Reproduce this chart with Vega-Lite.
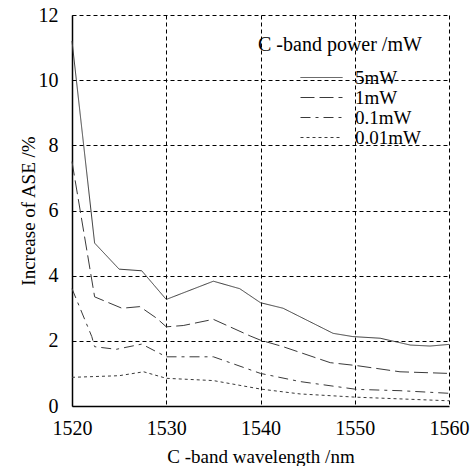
{
  "$schema": "https://vega.github.io/schema/vega-lite/v6.json",
  "autosize": {"type": "none"},
  "padding": {"left": 72, "top": 15, "right": 27, "bottom": 60},
  "width": 377,
  "height": 391,
  "background": "white",
  "config": {
    "view": {"stroke": null},
    "font": "'Liberation Serif', 'Times New Roman', serif"
  },
  "data": {
    "values": [
      {"wl": 1520, "v": 11.2, "p": "5mW"},
      {"wl": 1522.4, "v": 5.0, "p": "5mW"},
      {"wl": 1525, "v": 4.2, "p": "5mW"},
      {"wl": 1527.4, "v": 4.15, "p": "5mW"},
      {"wl": 1530, "v": 3.27, "p": "5mW"},
      {"wl": 1535, "v": 3.83, "p": "5mW"},
      {"wl": 1537.8, "v": 3.6, "p": "5mW"},
      {"wl": 1540, "v": 3.17, "p": "5mW"},
      {"wl": 1542.4, "v": 3.0, "p": "5mW"},
      {"wl": 1547.7, "v": 2.23, "p": "5mW"},
      {"wl": 1549.8, "v": 2.13, "p": "5mW"},
      {"wl": 1552.7, "v": 2.08, "p": "5mW"},
      {"wl": 1555.9, "v": 1.87, "p": "5mW"},
      {"wl": 1558, "v": 1.84, "p": "5mW"},
      {"wl": 1560, "v": 1.89, "p": "5mW"},
      {"wl": 1520, "v": 7.5, "p": "1mW"},
      {"wl": 1522.4, "v": 3.35, "p": "1mW"},
      {"wl": 1525.3, "v": 3.0, "p": "1mW"},
      {"wl": 1527.2, "v": 3.05, "p": "1mW"},
      {"wl": 1529, "v": 2.69, "p": "1mW"},
      {"wl": 1530, "v": 2.43, "p": "1mW"},
      {"wl": 1531.8, "v": 2.47, "p": "1mW"},
      {"wl": 1535, "v": 2.66, "p": "1mW"},
      {"wl": 1538.9, "v": 2.15, "p": "1mW"},
      {"wl": 1540, "v": 2.02, "p": "1mW"},
      {"wl": 1542.4, "v": 1.82, "p": "1mW"},
      {"wl": 1547.4, "v": 1.33, "p": "1mW"},
      {"wl": 1550.2, "v": 1.24, "p": "1mW"},
      {"wl": 1554.8, "v": 1.05, "p": "1mW"},
      {"wl": 1560, "v": 1.0, "p": "1mW"},
      {"wl": 1520, "v": 3.6, "p": "0.1mW"},
      {"wl": 1522.1, "v": 2.13, "p": "0.1mW"},
      {"wl": 1522.4, "v": 1.82, "p": "0.1mW"},
      {"wl": 1524.7, "v": 1.74, "p": "0.1mW"},
      {"wl": 1527.4, "v": 1.9, "p": "0.1mW"},
      {"wl": 1530, "v": 1.51, "p": "0.1mW"},
      {"wl": 1535, "v": 1.51, "p": "0.1mW"},
      {"wl": 1540, "v": 1.0, "p": "0.1mW"},
      {"wl": 1544.2, "v": 0.75, "p": "0.1mW"},
      {"wl": 1550.2, "v": 0.51, "p": "0.1mW"},
      {"wl": 1554.8, "v": 0.47, "p": "0.1mW"},
      {"wl": 1560, "v": 0.39, "p": "0.1mW"},
      {"wl": 1520, "v": 0.88, "p": "0.01mW"},
      {"wl": 1525, "v": 0.93, "p": "0.01mW"},
      {"wl": 1527.6, "v": 1.05, "p": "0.01mW"},
      {"wl": 1530, "v": 0.85, "p": "0.01mW"},
      {"wl": 1535, "v": 0.78, "p": "0.01mW"},
      {"wl": 1540, "v": 0.52, "p": "0.01mW"},
      {"wl": 1544.2, "v": 0.37, "p": "0.01mW"},
      {"wl": 1550.2, "v": 0.27, "p": "0.01mW"},
      {"wl": 1560, "v": 0.16, "p": "0.01mW"}
    ]
  },
  "mark": {"type": "line", "stroke": "#3a3a3a", "strokeWidth": 1},
  "encoding": {
    "x": {
      "field": "wl", "type": "quantitative",
      "scale": {"domain": [1520, 1560], "nice": false, "zero": false},
      "axis": {
        "values": [1520, 1530, 1540, 1550, 1560],
        "format": "d",
        "title": "C -band wavelength /nm",
        "titleFontSize": 19, "titleFontWeight": "normal", "titleColor": "black", "titlePadding": 9,
        "labelFontSize": 20, "labelColor": "black", "labelPadding": 12,
        "ticks": false,
        "domainColor": "black", "domainWidth": 1.5,
        "grid": true, "gridColor": "black", "gridDash": [4, 3], "gridWidth": 1, "gridOpacity": 1,
        "labelFlush": false
      }
    },
    "y": {
      "field": "v", "type": "quantitative",
      "scale": {"domain": [0, 12], "nice": false},
      "axis": {
        "values": [0, 2, 4, 6, 8, 10, 12],
        "title": "Increase of ASE /%",
        "titleFontSize": 19, "titleFontWeight": "normal", "titleColor": "black", "titlePadding": 0,
        "labelFontSize": 20, "labelColor": "black", "labelPadding": 14,
        "ticks": false,
        "domainColor": "black", "domainWidth": 1.5,
        "grid": true, "gridColor": "black", "gridDash": [4, 3], "gridWidth": 1, "gridOpacity": 1,
        "labelFlush": false
      }
    },
    "strokeDash": {
      "field": "p", "type": "nominal",
      "scale": {
        "domain": ["5mW", "1mW", "0.1mW", "0.01mW"],
        "range": [[1, 0], [14, 5], [10, 5, 3, 5], [3, 3]]
      },
      "legend": {
        "orient": "none", "legendX": 186, "legendY": 20,
        "title": "C -band power /mW",
        "titleFontSize": 20, "titleFontWeight": "normal", "titleColor": "black", "titlePadding": 13,
        "labelFontSize": 19, "labelColor": "black", "labelOffset": 24,
        "symbolType": "M-3,0H3", "symbolSize": 196, "symbolStrokeWidth": 1, "symbolStrokeColor": "#3a3a3a", "symbolFillColor": "transparent",
        "symbolOffset": 54, "rowPadding": 0, "padding": 0
      }
    }
  }
}
